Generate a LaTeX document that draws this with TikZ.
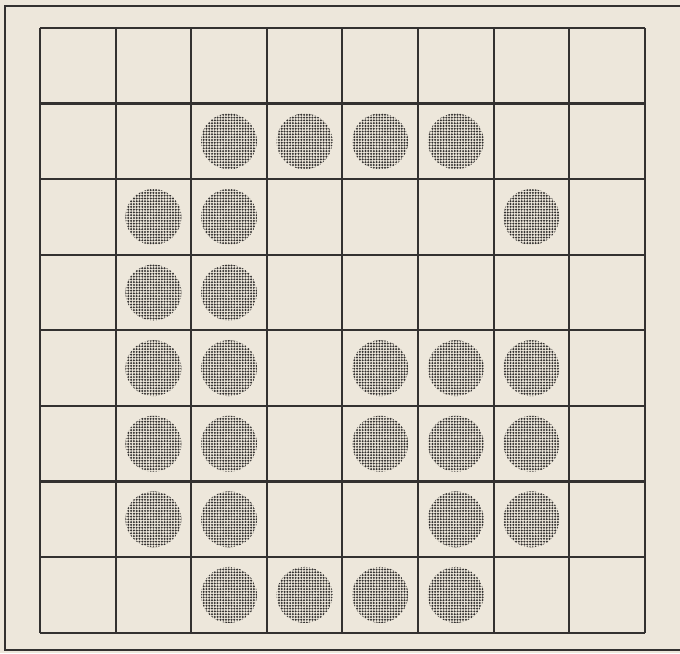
\documentclass[tikz,border=0pt]{standalone}
\usetikzlibrary{patterns.meta}
\definecolor{paper}{HTML}{EDE7DB}
\definecolor{ink}{HTML}{333130}
\tikzset{
  board/.style={draw=ink, line width=0.8pt},
  stone/.style={pattern={Dots[radius=0.42pt, distance=1.05pt]}, pattern color=ink},
}
\begin{document}
\begin{tikzpicture}
  \fill[paper] (-0.529,-0.271) rectangle (8.466,8.37);
  \useasboundingbox (-0.529,-0.271) rectangle (8.466,8.37);
  % outer frame, right side runs off the page
  \draw[ink, line width=0.9pt] (8.466,8.29) -- (-0.463,8.29) -- (-0.463,-0.231) -- (8.466,-0.231);
  \draw[board] (0,0) grid (8,8);
  % stones, row by row from the top
  \foreach \r/\cols in {2/{3,4,5,6}, 3/{2,3,7}, 4/{2,3}, 5/{2,3,5,6,7}, 6/{2,3,5,6,7}, 7/{2,3,6,7}, 8/{3,4,5,6}}
    \foreach \c in \cols
      \fill[stone] (\c-0.5, 8.5-\r) circle (0.37);
\end{tikzpicture}
\end{document}
